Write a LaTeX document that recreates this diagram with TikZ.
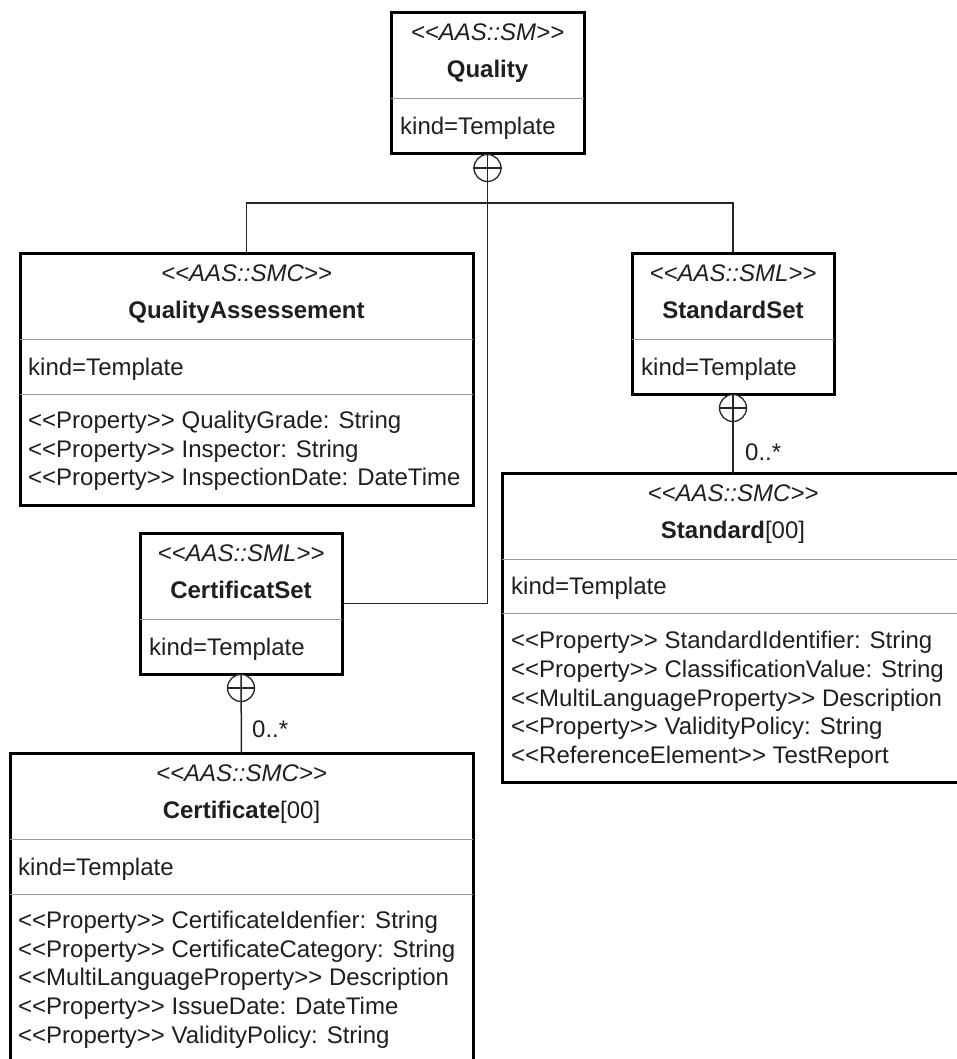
\documentclass[tikz,border=0pt]{standalone}
\usepackage{fontspec}
\setmainfont{Liberation Sans}[Ligatures=TeXOff]
\usetikzlibrary{calc}

\begin{document}
\begin{tikzpicture}[x=1pt,y=-1pt,
  every node/.style={font=\fontsize{24}{28.7}\selectfont, text=black!88},
  umlbox/.style={draw=black, line width=3pt, fill=white, anchor=north west,
                 inner sep=0pt, outer sep=0pt},
  divider/.style={draw=black!40, line width=1pt},
  stereo/.style={font=\fontsize{24}{28.7}\selectfont\itshape, anchor=base, inner sep=0pt},
  title/.style={anchor=base, inner sep=0pt},
  attr/.style={anchor=base west, inner sep=0pt},
  link/.style={draw=black!85, line width=1.5pt},
  oplus/.style={circle, draw=black!85, line width=1.3pt, minimum size=27pt,
                inner sep=0pt, fill=white},
  mult/.style={anchor=base west, inner sep=0pt}
]
\clip (0,0) rectangle (957,1059);
\fill[white] (0,0) rectangle (957,1059);

% ---------- Quality ----------
\node[umlbox, minimum width=193pt, minimum height=141pt] (q) at (391,13) {};
\draw[divider] ([yshift=-86pt]q.north west) -- ([yshift=-86pt]q.north east);
\node[stereo] (qS) at (487.5,41) {<<AAS::SM>>};
\node[title] (qT) at (487.5,78) {\textbf{Quality}};
\node[attr] (qK) at (400,135) {kind=Template};

% ---------- QualityAssessement ----------
\node[umlbox, minimum width=453pt, minimum height=252pt] (qa) at (20,253) {};
\draw[divider] ([yshift=-86pt]qa.north west) -- ([yshift=-86pt]qa.north east);
\draw[divider] ([yshift=-141pt]qa.north west) -- ([yshift=-141pt]qa.north east);
\node[stereo] (qaS) at (246.5,281) {<<AAS::SMC>>};
\node[title] (qaT) at (246.5,318) {\textbf{QualityAssessement}};
\node[attr] (qaK) at (28,375) {kind=Template};
\node[attr] (qaP1) at (28,428) {<<Property>> QualityGrade: String};
\node[attr] (qaP2) at (28,457) {<<Property>> Inspector: String};
\node[attr] (qaP3) at (28,485) {<<Property>> InspectionDate: DateTime};

% ---------- StandardSet ----------
\node[umlbox, minimum width=202pt, minimum height=141pt] (ss) at (632,253) {};
\draw[divider] ([yshift=-86pt]ss.north west) -- ([yshift=-86pt]ss.north east);
\node[stereo] (ssS) at (733,281) {<<AAS::SML>>};
\node[title] (ssT) at (733,318) {\textbf{StandardSet}};
\node[attr] (ssK) at (641,375) {kind=Template};

% ---------- CertificatSet ----------
\node[umlbox, minimum width=202pt, minimum height=141pt] (cs) at (140,533) {};
\draw[divider] ([yshift=-86pt]cs.north west) -- ([yshift=-86pt]cs.north east);
\node[stereo] (csS) at (241,561) {<<AAS::SML>>};
\node[title] (csT) at (241,598) {\textbf{CertificatSet}};
\node[attr] (csK) at (149,655) {kind=Template};

% ---------- Standard ----------
\node[umlbox, minimum width=462pt, minimum height=309pt] (st) at (502,473) {};
\draw[divider] ([yshift=-86pt]st.north west) -- ([yshift=-86pt]st.north east);
\draw[divider] ([yshift=-140pt]st.north west) -- ([yshift=-140pt]st.north east);
\node[stereo] (stS) at (733,501) {<<AAS::SMC>>};
\node[title] (stT) at (733,538) {\textbf{Standard}[00]};
\node[attr] (stK) at (511,594) {kind=Template};
\node[attr] (stP1) at (511,648) {<<Property>> StandardIdentifier: String};
\node[attr] (stP2) at (511,677) {<<Property>> ClassificationValue: String};
\node[attr] (stP3) at (511,706) {<<MultiLanguageProperty>> Description};
\node[attr] (stP4) at (511,734) {<<Property>> ValidityPolicy: String};
\node[attr] (stP5) at (511,763) {<<ReferenceElement>> TestReport};

% ---------- Certificate ----------
\node[umlbox, minimum width=463pt, minimum height=309pt] (ce) at (10,753) {};
\draw[divider] ([yshift=-86pt]ce.north west) -- ([yshift=-86pt]ce.north east);
\draw[divider] ([yshift=-141pt]ce.north west) -- ([yshift=-141pt]ce.north east);
\node[stereo] (ceS) at (241.5,781) {<<AAS::SMC>>};
\node[title] (ceT) at (241.5,818) {\textbf{Certificate}[00]};
\node[attr] (ceK) at (18,875) {kind=Template};
\node[attr] (ceP1) at (18,928) {<<Property>> CertificateIdenfier: String};
\node[attr] (ceP2) at (18,957) {<<Property>> CertificateCategory: String};
\node[attr] (ceP3) at (18,985) {<<MultiLanguageProperty>> Description};
\node[attr] (ceP4) at (18,1014) {<<Property>> IssueDate: DateTime};
\node[attr] (ceP5) at (18,1043) {<<Property>> ValidityPolicy: String};

% ---------- containment connectors ----------
\node[oplus] (c1) at (487.5,168) {};
\node[oplus] (c2) at (733,408) {};
\node[oplus] (c3) at (241,688) {};

\coordinate (split) at (487.5,203);
\draw[link] (c1.north) -- (c1.south) -- (split) -| (qa.north);
\draw[link] (split) -| (ss.north);
\draw[link] (split) |- (cs.east);
\draw[link] (c1.west) -- (c1.east);

\draw[link] (c2.north) -- (st.north);
\draw[link] (c2.west) -- (c2.east);
\node[mult] (m1) at (745,460) {0..*};

\draw[link] (c3.north) -- (ce.north);
\draw[link] (c3.west) -- (c3.east);
\node[mult] (m2) at (252,737) {0..*};
\end{tikzpicture}
\end{document}
